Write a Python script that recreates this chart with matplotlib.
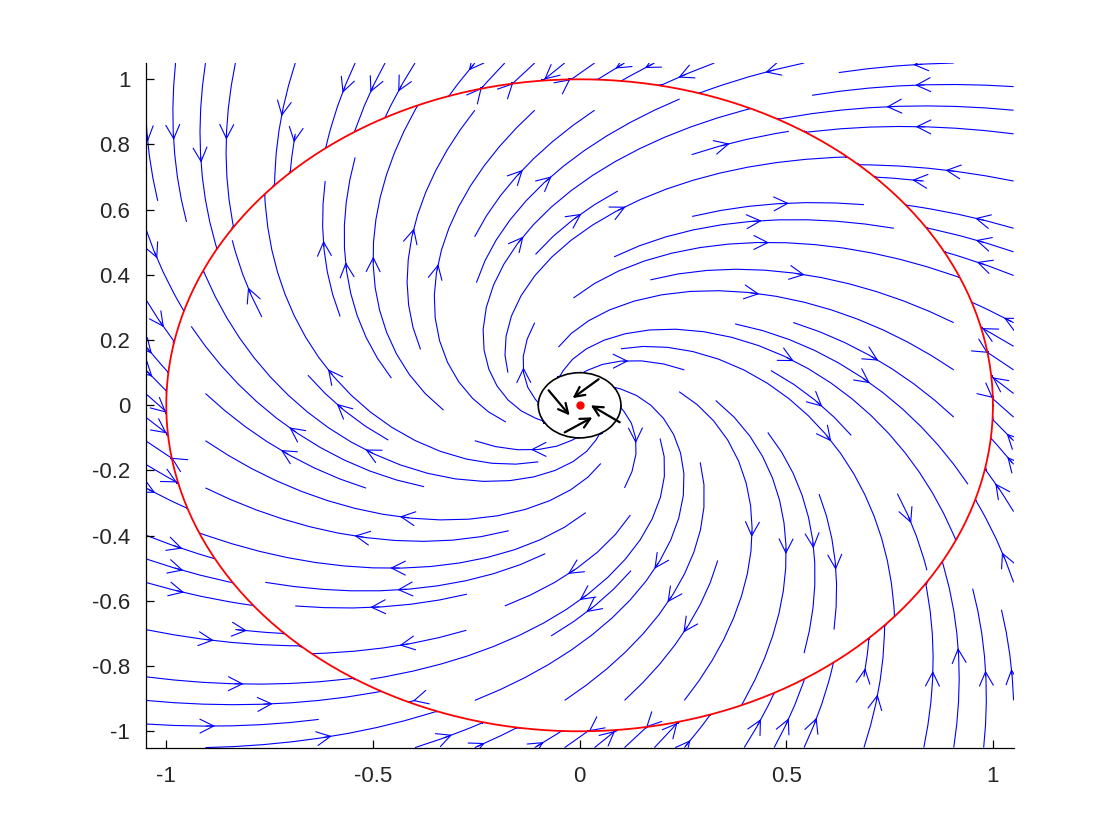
import numpy as np
import matplotlib
matplotlib.use("Agg")
import matplotlib.pyplot as plt
from matplotlib.patches import Circle

# ---- chart values ----
x_lim = [-1.05, 1.05]
y_lim = [-1.05, 1.05]
x_ticks = [-1, -0.5, 0, 0.5, 1]
x_ticklabels = ["-1", "-0.5", "0", "0.5", "1"]
y_ticks = [-1, -0.8, -0.6, -0.4, -0.2, 0, 0.2, 0.4, 0.6, 0.8, 1]
y_ticklabels = ["-1", "-0.8", "-0.6", "-0.4", "-0.2", "0", "0.2", "0.4", "0.6", "0.8", "1"]

outer_radius = 1.0      # red level set
inner_radius = 0.1      # black region
radial_rate = -1.0      # base linear field: contraction
angular_rate = 1.1      # base linear field: counter-clockwise rotation

# black arrows inside the small region (tail -> tip)
arrow_tail_x = [0.046, -0.075, -0.036, 0.097]
arrow_tail_y = [0.080, 0.046, -0.083, -0.052]
arrow_tip_x = [-0.017, -0.024, 0.031, 0.027]
arrow_tip_y = [0.022, -0.031, -0.037, 0.000]

equilibrium = [0.0, 0.0]

# ---- vector field on a grid ----
gx = np.linspace(x_lim[0], x_lim[1], 211)
gy = np.linspace(y_lim[0], y_lim[1], 211)
X, Y = np.meshgrid(gx, gy)
R2 = X**2 + Y**2
H = (R2 - inner_radius**2) * (R2 - outer_radius**2)
U = H * (radial_rate * X - angular_rate * Y)
V = H * (angular_rate * X + radial_rate * Y)

fig = plt.figure(figsize=(11.2, 8.4), dpi=100)
ax = fig.add_axes([0.13, 0.11, 0.775, 0.815])

ax.streamplot(X, Y, U, V, density=1.0, color="#0000ff", linewidth=0.8,
              arrowsize=2.5, arrowstyle="->", zorder=1)

th = np.linspace(0, 2 * np.pi, 400)
ax.plot(outer_radius * np.cos(th), outer_radius * np.sin(th), color="red", lw=1.3, zorder=3)

ax.add_patch(Circle((0, 0), inner_radius, facecolor="white", edgecolor="black", lw=1.2, zorder=4))

for tx, ty, hx, hy in zip(arrow_tail_x, arrow_tail_y, arrow_tip_x, arrow_tip_y):
    ax.annotate("", xy=(hx, hy), xytext=(tx, ty),
                arrowprops=dict(arrowstyle="->,head_length=0.7,head_width=0.35",
                                color="black", lw=1.6, shrinkA=0, shrinkB=0),
                zorder=5)

ax.plot([equilibrium[0]], [equilibrium[1]], "o", color="red", ms=5, zorder=6)

ax.set_xlim(x_lim)
ax.set_ylim(y_lim)
ax.set_xticks(x_ticks)
ax.set_xticklabels(x_ticklabels)
ax.set_yticks(y_ticks)
ax.set_yticklabels(y_ticklabels)
for s in ["top", "right"]:
    ax.spines[s].set_visible(False)
for s in ["left", "bottom"]:
    ax.spines[s].set_linewidth(0.9)
ax.tick_params(direction="in", length=6, width=0.9, labelsize=16, colors="black")
ax.tick_params(axis="y", pad=11)
ax.tick_params(axis="x", pad=13)
for lab in ax.get_xticklabels() + ax.get_yticklabels():
    lab.set_fontfamily("Liberation Sans")
    lab.set_color("#262626")

fig.savefig("out.png", dpi=100)
